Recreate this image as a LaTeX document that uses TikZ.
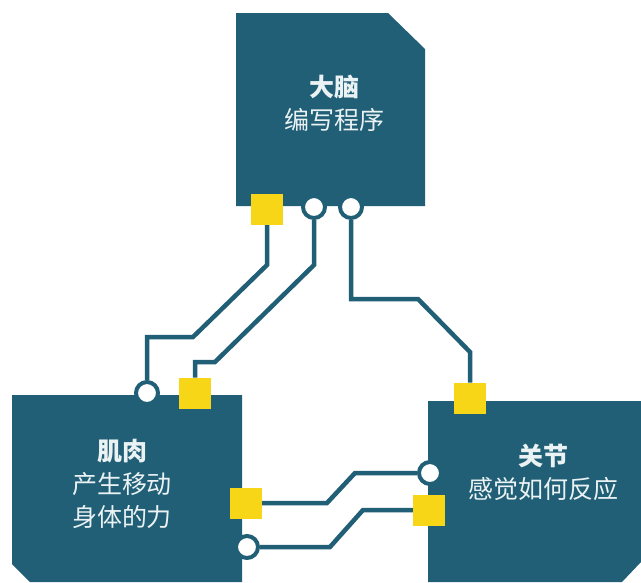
\documentclass[tikz,border=0pt]{standalone}
\usepackage{fontspec}
\newfontfamily\cjk{Noto Sans CJK SC}
\definecolor{teal0}{RGB}{32,95,118}
\definecolor{gold0}{RGB}{247,214,24}
\definecolor{txt0}{RGB}{235,242,244}
\begin{document}
\begin{tikzpicture}[x=1pt,y=-1pt,
  boxfill/.style={fill=teal0},
  wire/.style={draw=teal0,line width=4.5pt},
  sqport/.style={rectangle,fill=gold0,minimum width=32pt,minimum height=31pt,inner sep=0pt,outer sep=0pt},
  cport/.style={circle,draw=teal0,fill=white,line width=4pt,minimum size=22pt,inner sep=0pt},
  label0/.style={text=txt0,align=center,font=\cjk\fontsize{25pt}{33pt}\selectfont}]
\useasboundingbox (0,0) rectangle (641,582);
\fill[white] (0,0) rectangle (641,582);
% boxes
\path[boxfill] (236,13) -- (388,13) -- (425,49) -- (425,206) -- (236,206) -- cycle;
\path[boxfill] (12,395) -- (242,395) -- (242,582) -- (30,582) -- (12,564) -- cycle;
\path[boxfill] (428,401) -- (641,401) -- (641,562) -- (622,582) -- (428,582) -- cycle;
% texts
\node[label0] (brain) at (334,103) {{\bfseries 大脑}\\编写程序};
\node[label0] (muscle) at (122,484) {{\bfseries 肌肉}\\产生移动\\身体的力};
\node[label0] (joint) at (543,472) {{\bfseries 关节}\\感觉如何反应};
% ports
\node[sqport] (by) at (267,209) {};
\node[cport] (bc1) at (314,207) {};
\node[cport] (bc2) at (351,207) {};
\node[cport] (lc1) at (147,393) {};
\node[sqport] (ly1) at (195,393) {};
\node[sqport] (ly2) at (246,503) {};
\node[cport] (lc2) at (247,547) {};
\node[sqport] (ry1) at (470,398) {};
\node[cport] (rc1) at (430,473) {};
\node[sqport] (ry2) at (429,510) {};
% connectors
\draw[wire] (by.south) -- (267,265) -- (193,337) -- (147,337) -- (lc1.north);
\draw[wire] (bc1.south) -- (314,265) -- (215,362) -- (195,362) -- (ly1.north);
\draw[wire] (bc2.south) -- (351,299) -- (418,299) -- (470,352) -- (ry1.north);
\draw[wire] (ly2.east) -- (327,503) -- (355,473) -- (rc1.west);
\draw[wire] (lc2.east) -- (330,547) -- (363,510) -- (ry2.west);
% redraw square ports on top of the wires
\foreach \p in {by,ly1,ly2,ry1,ry2}{\fill[gold0] (\p.south west) rectangle (\p.north east);}
\end{tikzpicture}
\end{document}
